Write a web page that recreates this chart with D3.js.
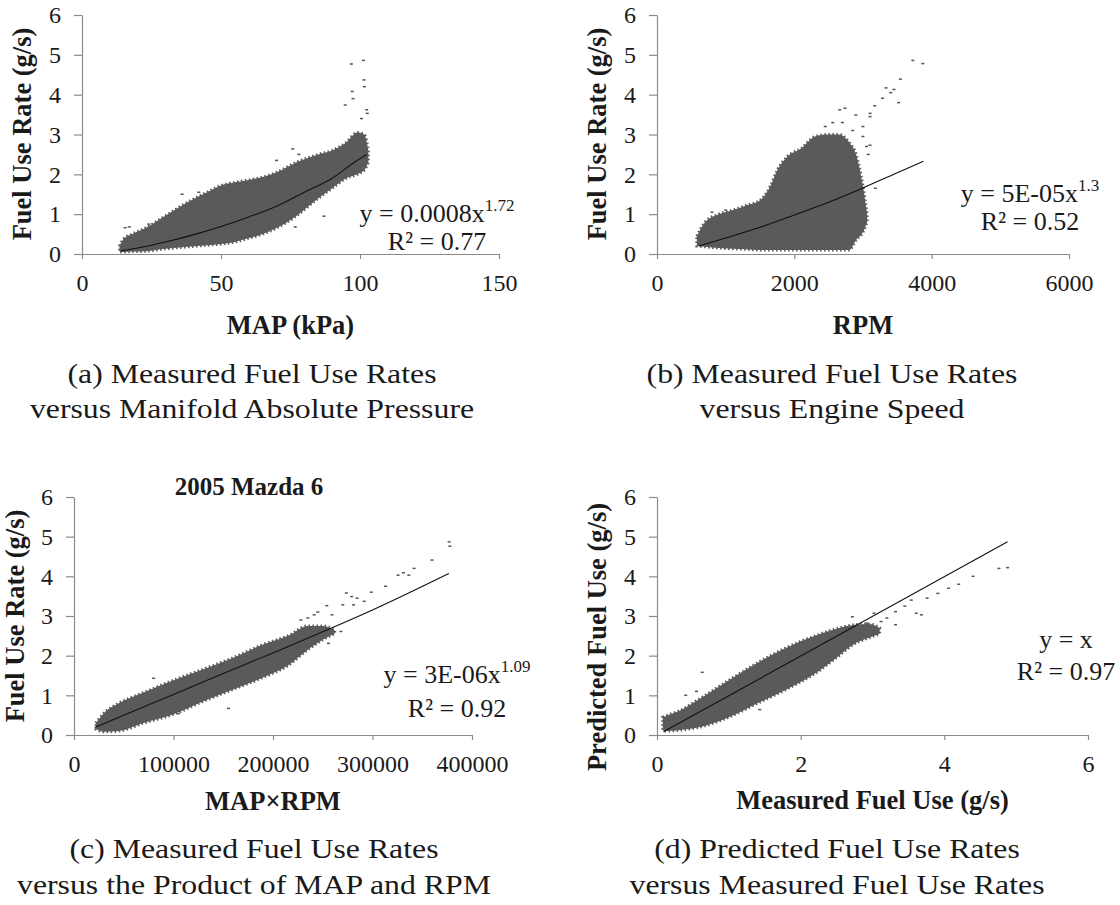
<!DOCTYPE html>
<html><head><meta charset="utf-8">
<script src="https://cdn.jsdelivr.net/npm/d3@7"></script>
<style>
body{margin:0;background:#fff}
svg text{font-family:"Liberation Serif","Times New Roman",serif;fill:#1a1a1a}
</style></head><body>
<svg id="chart" width="1120" height="905"></svg>
<script>
// ---------- shared ticks ----------
const yTicks = [0, 1, 2, 3, 4, 5, 6];
const aTicks = [0, 50, 100, 150];
const bTicks = [0, 2000, 4000, 6000];
const cTicks = [0, 100000, 200000, 300000, 400000];
const dTicks = [0, 2, 4, 6];

// ---------- panel (a): fuel rate vs MAP ----------
const aCloudX  = [13.5, 15, 18, 23, 30, 38, 45, 50, 55, 60, 65, 70, 77, 85, 90, 95, 99, 101.5, 103];
const aCloudLo = [0.05, 0.05, 0.06, 0.07, 0.13, 0.18, 0.22, 0.25, 0.3, 0.4, 0.5, 0.65, 0.95, 1.4, 1.65, 1.9, 2.0, 2.1, 2.3];
const aCloudHi = [0.2, 0.38, 0.5, 0.66, 0.96, 1.3, 1.55, 1.72, 1.8, 1.86, 1.93, 2.05, 2.3, 2.5, 2.6, 2.8, 3.05, 3.0, 2.6];
const aOut = [[96.9,4.77],[101.2,4.86],[101.4,4.37],[101.6,4.2],[97.2,4.08],[97.5,3.9],[94.7,3.74],[102.4,3.62],[102.6,3.53],[100.5,3.4],
  [87,0.95],[76.7,0.68],[79.9,1.2],[75.8,2.64],[70,2.35],[15.5,0.66],[17,0.68],[24,0.75],[36,1.5],[42,1.55],[78,2.5]];
const aTrend = [[14,0.08],[20,0.15],[30,0.3],[40,0.48],[50,0.69],[60,0.93],[70,1.2],[80,1.55],[90,1.9],[98.5,2.33],[102.5,2.5]];

// ---------- panel (b): fuel rate vs RPM ----------
const bCloudX  = [580, 700, 900, 1100, 1300, 1500, 1650, 1750, 1900, 2100, 2300, 2500, 2650, 2800, 2900, 3000, 3060];
const bCloudLo = [0.2, 0.18, 0.15, 0.13, 0.12, 0.1, 0.1, 0.1, 0.1, 0.1, 0.1, 0.1, 0.1, 0.1, 0.35, 0.55, 0.8];
const bCloudHi = [0.45, 0.8, 1.0, 1.1, 1.22, 1.35, 1.7, 2.1, 2.45, 2.65, 2.95, 3.0, 3.0, 2.8, 2.5, 1.7, 1.0];
const bOut = [[2661,3.62],[2739,3.66],[2895,3.49],[3103,3.53],[2999,3.2],[2999,2.95],[3103,2.73],[3284,3.91],[3336,4.17],[3404,4.05],
  [3451,4.13],[3518,3.8],[3544,4.39],[3726,4.86],[3871,4.78],[3170,3.72],[3102,3.45],[3051,2.7],[3076,2.5],[3180,1.65],[2560,3.3],[2450,3.2],
  [800,1.05],[1000,1.1],[2700,3.3],[2850,3.1]];
const bTrend = [[610,0.2],[1000,0.4],[1500,0.67],[2000,0.98],[2500,1.3],[3000,1.66],[3500,2.04],[3880,2.33]];

// ---------- panel (c): fuel rate vs MAP x RPM ----------
const cCloudX  = [22000, 30000, 45000, 70000, 100000, 130000, 160000, 190000, 215000, 235000, 250000, 262000];
const cCloudLo = [0.15, 0.08, 0.1, 0.3, 0.52, 0.85, 1.15, 1.45, 1.75, 2.15, 2.4, 2.55];
const cCloudHi = [0.3, 0.55, 0.8, 1.07, 1.38, 1.66, 1.95, 2.28, 2.5, 2.75, 2.75, 2.65];
const cOut = [[325700,4.03],[331100,4.09],[336500,4.03],[341800,4.2],[359800,4.41],[377000,4.87],[377700,4.76],[313200,3.75],[298800,3.6],
  [279100,3.49],[273700,3.58],[291600,3.37],[270100,3.28],[254000,3.26],[259300,3.03],[268300,2.61],[255700,2.31],[155300,0.67],
  [105100,0.54],[241400,3.03],[280900,3.28],[284500,3.45],[80000,1.43],[235000,2.95],[228000,2.9],[245000,3.1]];
const cTrend = [[20800,0.19],[50000,0.5],[100000,1.02],[150000,1.55],[200000,2.07],[250000,2.6],[300000,3.15],[376700,4.07]];

// ---------- panel (d): predicted vs measured ----------
const dCloudX  = [0.08, 0.15, 0.3, 0.6, 1.0, 1.4, 1.8, 2.2, 2.5, 2.75, 2.95, 3.1];
const dCloudLo = [0.12, 0.1, 0.12, 0.2, 0.45, 0.8, 1.15, 1.55, 1.95, 2.3, 2.45, 2.55];
const dCloudHi = [0.45, 0.5, 0.6, 0.92, 1.38, 1.82, 2.2, 2.5, 2.68, 2.78, 2.8, 2.7];
const dOut = [[2.72,2.98],[2.92,2.82],[3.02,3.07],[3.12,2.86],[3.32,3.11],[3.54,3.4],[3.61,3.07],[3.68,3.03],[3.76,3.45],[3.91,3.57],
  [4.06,3.7],[4.2,3.8],[4.4,4.0],[4.76,4.2],[4.88,4.22],[0.63,1.58],[1.43,0.64],[3.32,2.78],[3.2,2.95],[3.45,3.25],[0.4,1.0],[0.55,1.1]];
const dTrend = [[0.09,0.08],[4.88,4.87]];

// ---------- drawing ----------
const svg = d3.select("#chart");

const panels = [
  {xDomain:[0,150], xTicks:aTicks, left:82, right:499, top:15, bottom:254,
   cx:aCloudX, lo:aCloudLo, hi:aCloudHi, out:aOut, trend:aTrend,
   yTitle:"Fuel Use Rate (g/s)", yTitleX:31, yTitleY:134, xTitle:"MAP (kPa)", xTitleY:334,
   eq:["y = 0.0008x","1.72"], r2:"R² = 0.77", eqX:437, eqY:222, r2Y:250,
   cap:["(a)  Measured Fuel Use Rates","versus Manifold Absolute Pressure"], capX:252, capY:[383,418]},
  {xDomain:[0,6000], xTicks:bTicks, left:657, right:1069, top:15, bottom:254,
   cx:bCloudX, lo:bCloudLo, hi:bCloudHi, out:bOut, trend:bTrend,
   yTitle:"Fuel Use Rate (g/s)", yTitleX:606, yTitleY:134, xTitle:"RPM", xTitleY:334,
   eq:["y = 5E-05x","1.3"], r2:"R² = 0.52", eqX:1030, eqY:202, r2Y:230,
   cap:["(b) Measured Fuel Use Rates","versus Engine Speed"], capX:832, capY:[383,418]},
  {xDomain:[0,400000], xTicks:cTicks, left:74, right:472, top:497, bottom:735,
   cx:cCloudX, lo:cCloudLo, hi:cCloudHi, out:cOut, trend:cTrend,
   yTitle:"Fuel Use Rate (g/s)", yTitleX:24, yTitleY:616, xTitle:"MAP×RPM", xTitleY:810,
   eq:["y = 3E-06x","1.09"], r2:"R² = 0.92", eqX:457, eqY:683, r2Y:717,
   cap:["(c) Measured Fuel Use Rates","versus the Product of MAP and RPM"], capX:254, capY:[858,894]},
  {xDomain:[0,6], xTicks:dTicks, left:657, right:1088, top:497, bottom:735,
   cx:dCloudX, lo:dCloudLo, hi:dCloudHi, out:dOut, trend:dTrend,
   yTitle:"Predicted Fuel Use (g/s)", yTitleX:606, yTitleY:637, xTitle:"Measured Fuel Use (g/s)", xTitleY:809,
   eq:["y = x",""], r2:"R² = 0.97", eqX:1066, eqY:648, r2Y:680,
   cap:["(d) Predicted Fuel Use Rates","versus Measured Fuel Use Rates"], capX:837, capY:[858,894]}
];

panels.forEach(p => {
  const x = d3.scaleLinear().domain(p.xDomain).range([p.left, p.right]);
  const y = d3.scaleLinear().domain([0,6]).range([p.bottom, p.top]);
  const g = svg.append("g");

  // axes
  const ya = g.append("g").attr("transform",`translate(${p.left},0)`)
    .call(d3.axisLeft(y).tickValues(yTicks).tickSize(8).tickSizeOuter(0).tickPadding(13).tickFormat(d3.format("d")));
  const xa = g.append("g").attr("transform",`translate(0,${p.bottom})`)
    .call(d3.axisBottom(x).tickValues(p.xTicks).tickSize(5).tickSizeOuter(0).tickPadding(15).tickFormat(d3.format("d")));
  [ya, xa].forEach(a => {
    a.selectAll("path,line").attr("stroke","#8a8a8a").attr("stroke-width",1.2);
    a.selectAll("text").attr("font-size",24).attr("fill","#1a1a1a")
      .style("font-family",'"Liberation Serif","Times New Roman",serif');
  });

  // scatter cloud (dense region) with ragged dotted edge
  const cloud = p.cx.map((v,i) => ({x:v, lo:p.lo[i], hi:p.hi[i]}));
  g.append("path").datum(cloud)
    .attr("d", d3.area().x(d=>x(d.x)).y0(d=>y(d.lo)).y1(d=>y(d.hi)).curve(d3.curveMonotoneX))
    .attr("fill","#5a5a5a").attr("stroke","#5a5a5a").attr("stroke-width",3)
    .attr("stroke-dasharray","1.5 2.5");
  g.selectAll("rect.pt").data(p.out).join("rect").attr("class","pt")
    .attr("x", d => x(d[0]) - 1.5).attr("y", d => y(d[1]) - 0.75)
    .attr("width",3).attr("height",1.5).attr("fill","#555");

  // trend
  g.append("path").datum(p.trend)
    .attr("d", d3.line().x(d=>x(d[0])).y(d=>y(d[1])).curve(d3.curveMonotoneX))
    .attr("fill","none").attr("stroke","#111").attr("stroke-width",1.1);

  // titles
  g.append("text").attr("transform",`translate(${p.yTitleX},${p.yTitleY}) rotate(-90)`)
    .attr("text-anchor","middle").attr("font-size",26.5).attr("font-weight","bold").text(p.yTitle);
  g.append("text").attr("x",(p.left+p.right)/2).attr("y",p.xTitleY)
    .attr("text-anchor","middle").attr("font-size",26.5).attr("font-weight","bold").text(p.xTitle);

  // equation
  const eq = g.append("text").attr("x",p.eqX).attr("y",p.eqY).attr("text-anchor","middle").attr("font-size",26);
  eq.append("tspan").text(p.eq[0]);
  if (p.eq[1]) eq.append("tspan").attr("font-size",17).attr("dy",-11).text(p.eq[1]);
  g.append("text").attr("x",p.eqX).attr("y",p.r2Y).attr("text-anchor","middle").attr("font-size",26).text(p.r2);

  // caption
  p.cap.forEach((c,i) => {
    g.append("text").attr("transform",`translate(${p.capX},${p.capY[i]}) scale(1.2,1)`)
      .attr("text-anchor","middle").attr("font-size",26.5).text(c);
  });
});

// vehicle label
svg.append("text").attr("x",249).attr("y",495).attr("text-anchor","middle")
  .attr("font-size",25).attr("font-weight","bold").text("2005 Mazda 6");
</script>
</body></html>
